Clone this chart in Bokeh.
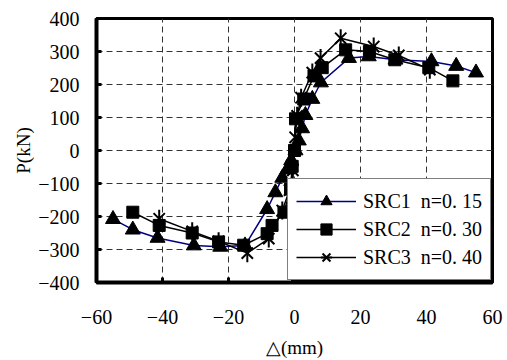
from bokeh.plotting import figure
from bokeh.models import Legend, LegendItem, FixedTicker
from bokeh.embed import file_html
from bokeh.resources import INLINE
import math

# ---- data ----
src1_x = [-55, -49, -41.5, -30.5, -22.5, -15, -8.3, -5.8, -3.7, -2.2, -1, 0.3, 1.3, 2.3, 3.3, 5.4, 8, 16.5, 22.5, 30.6, 41.5, 49, 55]
src1_p = [-208, -240, -265, -288, -292, -288, -178, -127, -83, -58, -30, 0, 30, 67, 107, 156, 206, 280, 285, 275, 270, 256, 236]

src2_x = [-49, -41, -31, -23, -15.4, -8.3, -6.8, -3.2, -1.2, -0.7, 0, 0.3, 2.8, 5.9, 8.4, 15.5, 22.7, 30.4, 40.7, 48]
src2_p = [-187, -227, -250, -277, -287, -252, -227, -187, -117, -48, 0, 96, 156, 226, 251, 305, 300, 275, 251, 211]

src3_x = [-41, -31, -23, -14.3, -7.8, -3.7, -1.5, -0.5, 0.2, 0.8, 2, 5.4, 7.9, 14, 24, 31.6, 41]
src3_p = [-207, -245, -275, -311, -267, -182, -120, -60, 40, 105, 160, 236, 280, 340, 315, 288, 245]

labels = ["SRC1  n=0. 15", "SRC2  n=0. 30", "SRC3  n=0. 40"]

x_ticks = [-60, -40, -20, 0, 20, 40, 60]
x_tick_labels = ["\u221260", "\u221240", "\u221220", "0", "20", "40", "60"]
y_ticks = [-400, -300, -200, -100, 0, 100, 200, 300, 400]
y_tick_labels = ["\u2212400", "\u2212300", "\u2212200", "\u2212100", "0", "100", "200", "300", "400"]

FONT = "'Liberation Serif'"

p = figure(width=507, height=360, x_range=(-60, 60), y_range=(-400, 400),
           output_backend="svg", toolbar_location=None,
           min_border_left=96, min_border_right=15, min_border_top=18, min_border_bottom=73,
           x_axis_label="\u25b3(mm)", y_axis_label="P(kN)")

p.background_fill_color = "white"
p.border_fill_color = "white"
p.outline_line_color = "black"
p.outline_line_width = 3

for ax in (p.xaxis[0], p.yaxis[0]):
    ax.axis_line_width = 4
    ax.axis_line_color = "black"
    ax.major_tick_in = 5
    ax.major_tick_out = 0
    ax.major_tick_line_width = 3
    ax.minor_tick_line_color = None
    ax.major_label_text_font = FONT
    ax.major_label_text_font_size = "20px"
    ax.major_label_text_color = "black"
    ax.axis_label_text_font = FONT
    ax.axis_label_text_font_size = "19px"
    ax.axis_label_text_font_style = "normal"
    ax.axis_label_text_color = "black"

p.xaxis.ticker = FixedTicker(ticks=x_ticks)
p.yaxis.ticker = FixedTicker(ticks=y_ticks)
p.xaxis.major_label_overrides = dict(zip(x_ticks, x_tick_labels))
p.yaxis.major_label_overrides = dict(zip(y_ticks, y_tick_labels))
p.xaxis.major_label_standoff = 27
p.xaxis.axis_label_standoff = 10
p.yaxis.major_label_standoff = 17
p.yaxis.axis_label_standoff = 1

for g in (p.xgrid[0], p.ygrid[0]):
    g.grid_line_color = "#333333"
    g.grid_line_dash = "6 4"
    g.grid_line_width = 1

navy = "#00007f"
l1 = p.line(src1_x, src1_p, line_color=navy, line_width=1.5)
m1 = p.scatter(src1_x, src1_p, marker="triangle", size=15, fill_color="black", line_color="black")
l2 = p.line(src2_x, src2_p, line_color="black", line_width=1.5)
m2 = p.scatter(src2_x, src2_p, marker="square", size=12, fill_color="black", line_color="black")
l3 = p.line(src3_x, src3_p, line_color="black", line_width=1.5)
m3a = p.scatter(src3_x, src3_p, marker="x", size=16, line_color="black", line_width=2)
m3b = p.scatter(src3_x, src3_p, marker="dash", angle=math.pi / 2, size=18, line_color="black", line_width=2)

# invisible renderer that only gives the shadow box its rows
ghost = p.scatter([], [], marker="square", size=1, fill_alpha=0, line_alpha=0)

LEG_X, LEG_Y, SH = 191, 2, 4

def style_legend(lg):
    lg.label_text_font = FONT
    lg.label_text_font_size = "20px"
    lg.label_text_line_height = 1.0
    lg.glyph_width = 60
    lg.glyph_height = 28
    lg.label_height = 28
    lg.label_standoff = 7
    lg.padding = 8
    lg.spacing = 0
    lg.margin = 0
    lg.border_line_color = "black"
    lg.border_line_width = 1
    lg.background_fill_alpha = 1.0

# drop shadow: a black legend of the same size, offset down-right
blank = "\u2003" * 6
shadow = Legend(items=[LegendItem(label=blank, renderers=[ghost]) for _ in labels],
                location=(LEG_X + SH, LEG_Y - SH))
style_legend(shadow)
shadow.background_fill_color = "black"
shadow.label_text_color = "black"
p.add_layout(shadow)

legend = Legend(items=[LegendItem(label=labels[0], renderers=[l1, m1]),
                       LegendItem(label=labels[1], renderers=[l2, m2]),
                       LegendItem(label=labels[2], renderers=[l3, m3a, m3b])],
                location=(LEG_X, LEG_Y))
style_legend(legend)
legend.background_fill_color = "white"
legend.label_text_color = "black"
p.add_layout(legend)

open("out.html", "w").write(file_html(p, INLINE))
